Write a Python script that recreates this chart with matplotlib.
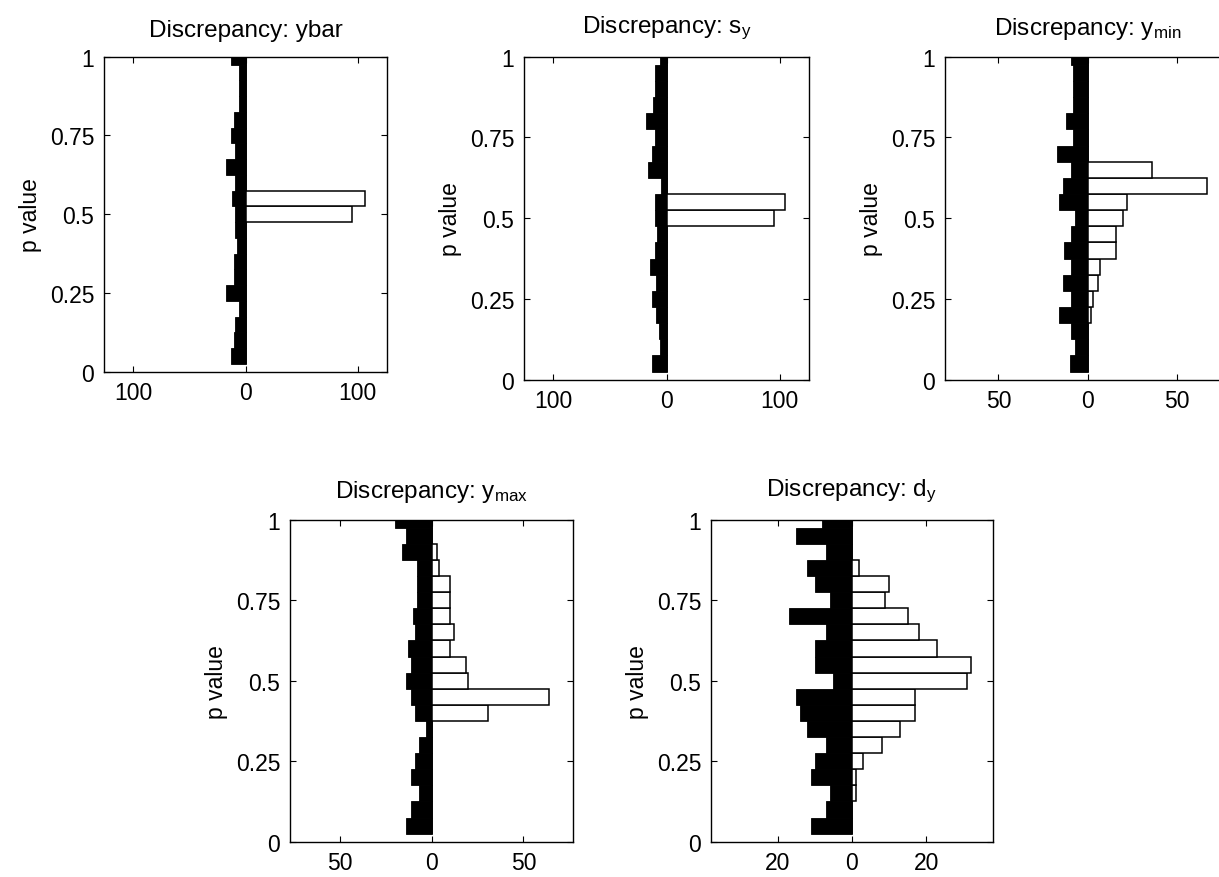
import matplotlib
matplotlib.use("Agg")
import matplotlib.pyplot as plt
import numpy as np

plt.rcParams['font.family'] = ['Liberation Sans', 'DejaVu Sans']
plt.rcParams['mathtext.fontset'] = 'custom'
plt.rcParams['mathtext.rm'] = 'Liberation Sans'
plt.rcParams['mathtext.it'] = 'Liberation Sans'

# bin centres of p values (bottom to top)
p_centers = [0.05, 0.10, 0.15, 0.20, 0.25, 0.30, 0.35, 0.40, 0.45, 0.50,
             0.55, 0.60, 0.65, 0.70, 0.75, 0.80, 0.85, 0.90, 0.95, 1.00]

titles = ["Discrepancy: ybar",
          r"Discrepancy: $\mathregular{s_y}$",
          r"Discrepancy: $\mathregular{y_{min}}$",
          r"Discrepancy: $\mathregular{y_{max}}$",
          r"Discrepancy: $\mathregular{d_y}$"]

# left (black) histograms, counts per bin
black_ybar = [13, 10, 9, 6, 17, 10, 10, 8, 9, 9, 12, 9, 17, 9, 13, 10, 6, 6, 6, 13]
black_sy   = [13, 6, 7, 9, 13, 9, 15, 10, 8, 10, 10, 5, 16, 13, 10, 18, 12, 10, 10, 6]
black_ymin = [10, 7, 9, 16, 9, 14, 9, 13, 9, 7, 16, 14, 9, 17, 8, 12, 8, 8, 8, 9]
black_ymax = [14, 11, 7, 11, 9, 7, 3, 9, 11, 14, 11, 13, 9, 10, 8, 8, 8, 16, 14, 20]
black_dy   = [11, 7, 6, 11, 10, 7, 12, 14, 15, 5, 10, 10, 7, 17, 6, 10, 12, 7, 15, 8]

# right (white) histograms, counts per bin
white_ybar = [0, 0, 0, 0, 0, 0, 0, 0, 0, 95, 106, 0, 0, 0, 0, 0, 0, 0, 0, 0]
white_sy   = [0, 0, 0, 0, 0, 0, 0, 0, 0, 95, 105, 0, 0, 0, 0, 0, 0, 0, 0, 0]
white_ymin = [0, 0, 0, 2, 3, 6, 7, 16, 16, 20, 22, 67, 36, 0, 0, 0, 0, 0, 0, 0]
white_ymax = [0, 0, 0, 0, 0, 0, 0, 31, 64, 20, 19, 10, 12, 10, 10, 10, 4, 3, 0, 0]
white_dy   = [0, 0, 1, 1, 3, 8, 13, 17, 17, 31, 32, 23, 18, 15, 9, 10, 2, 0, 0, 0]

xlims = [126, 126, 80, 77, 38]
xticks = [[-100, 0, 100], [-100, 0, 100], [-50, 0, 50], [-50, 0, 50], [-20, 0, 20]]
yticks = [0, 0.25, 0.5, 0.75, 1]
ytick_labels = ["0", "0.25", "0.5", "0.75", "1"]

blacks = [black_ybar, black_sy, black_ymin, black_ymax, black_dy]
whites = [white_ybar, white_sy, white_ymin, white_ymax, white_dy]

W, H = 1219, 878
fig = plt.figure(figsize=(W / 100, H / 100), dpi=100)

# axes boxes in pixels: left, right, top, bottom
boxes = [(104, 387, 57.7, 372.7),
         (524, 809, 57.7, 380.7),
         (945, 1230, 57.7, 380.7),
         (290, 573, 520.7, 842.7),
         (711, 993, 520.7, 842.7)]

FS = 16.5
for i in range(5):
    l, r, t, b = boxes[i]
    ax = fig.add_axes([l / W, (H - b) / H, (r - l) / W, (b - t) / H])
    bw = 0.05
    ax.barh(p_centers, [-v for v in blacks[i]], height=bw, color='black',
            edgecolor='black', linewidth=0.6)
    ax.barh(p_centers, whites[i], height=bw, color='white',
            edgecolor='black', linewidth=1.1)
    ax.set_ylim(0, 1)
    ax.set_xlim(-xlims[i], xlims[i])
    ax.set_xticks(xticks[i])
    ax.set_xticklabels([str(abs(v)) for v in xticks[i]])
    ax.set_yticks(yticks)
    ax.set_yticklabels(ytick_labels)
    ax.tick_params(direction='in', length=4, width=0.8, top=True, right=True,
                   labelsize=FS, colors='black')
    ax.tick_params(axis='x', pad=7)
    ax.tick_params(axis='y', pad=7)
    for s in ax.spines.values():
        s.set_linewidth(1.0)
    ax.set_ylabel("p value", fontsize=FS)
    ax.yaxis.set_label_coords(-62 / (r - l), 0.5)
    ax.set_title(titles[i], fontsize=17.5, pad=11, va='bottom')

fig.savefig("out.png", dpi=100)
